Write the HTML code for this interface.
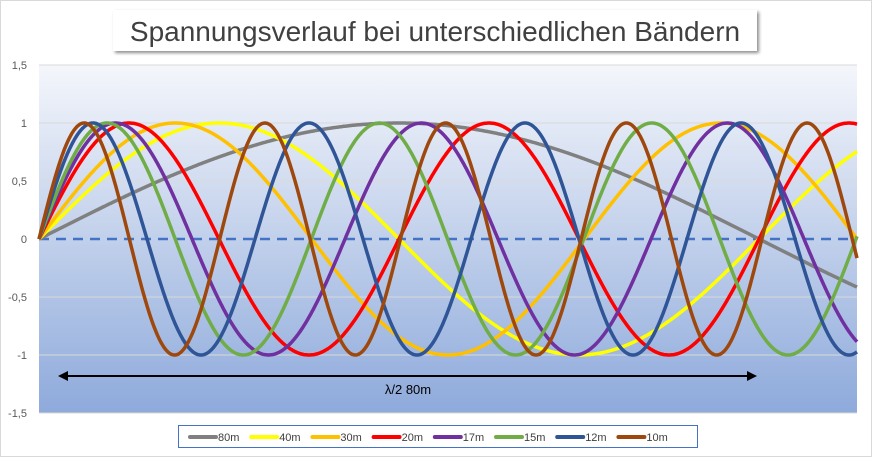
<!DOCTYPE html>
<html><head><meta charset="utf-8"><style>
body{margin:0;background:#fff;width:872px;height:457px;overflow:hidden;font-family:"Liberation Sans",sans-serif}
</style></head><body>
<svg id="s" width="872" height="457" xmlns="http://www.w3.org/2000/svg">
<defs>
<linearGradient id="g" x1="0" y1="0" x2="0" y2="1"><stop offset="0" stop-color="#f4f6fb"/><stop offset="1" stop-color="#8eaadb"/></linearGradient>
<filter id="sh"><feDropShadow dx="2" dy="2" stdDeviation="1.5" flood-color="#000" flood-opacity="0.45"/></filter>
</defs>
<rect x="0.5" y="0.5" width="871" height="456" fill="#fff" stroke="#d9d9d9"/>
<rect x="39" y="65" width="818" height="348" fill="url(#g)"/>
<g stroke="#d9d9d9" stroke-width="1">
<line x1="39" x2="857" y1="65" y2="65"/><line x1="39" x2="857" y1="123" y2="123"/><line x1="39" x2="857" y1="181" y2="181"/><line x1="39" x2="857" y1="297" y2="297"/><line x1="39" x2="857" y1="355" y2="355"/><line x1="39" x2="857" y1="413" y2="413"/>
</g>
<g font-size="11" fill="#595959" text-anchor="end">
<text x="27" y="69">1,5</text><text x="27" y="127">1</text><text x="27" y="185">0,5</text><text x="27" y="243">0</text><text x="27" y="301">-0,5</text><text x="27" y="359">-1</text><text x="27" y="417">-1,5</text>
</g>
<line x1="39" x2="857" y1="239" y2="239" stroke="#4472c4" stroke-width="2.5" stroke-dasharray="10,7"/>
<g id="curves" fill="none" stroke-width="3.5" stroke-linejoin="round"></g>
<line x1="62" x2="752" y1="376" y2="376" stroke="#000" stroke-width="2"/>
<polygon points="58,376 68,371 68,381" fill="#000"/><polygon points="757,376 747,371 747,381" fill="#000"/>
<text x="408" y="394" font-size="13" text-anchor="middle" fill="#000">λ/2 80m</text>
<rect x="113" y="10" width="644" height="41" fill="#fff" filter="url(#sh)"/>
<text x="435" y="41" font-size="28" text-anchor="middle" fill="#404040">Spannungsverlauf bei unterschiedlichen Bändern</text>
<rect x="178.5" y="425.5" width="519" height="22" fill="#fff" stroke="#4472c4"/>
<g id="leg" font-size="11" fill="#404040"></g>
</svg>
<script>
var S=[["#808080",80],["#ffff00",40],["#ffc000",30.3],["#ff0000",20],["#7030a0",17],["#70ad47",15.13],["#2f5597",12],["#9e480e",10.04]];
var names=["80m","40m","30m","20m","17m","15m","12m","10m"];
var ns="http://www.w3.org/2000/svg",c=document.getElementById("curves"),l=document.getElementById("leg");
S.forEach(function(s,i){var hp=9*s[1],p=[];for(var x=39;x<=857;x+=1){p.push(x+","+(239-116*Math.sin((x-39)/hp*Math.PI)).toFixed(1));}
var e=document.createElementNS(ns,"polyline");e.setAttribute("points",p.join(" "));e.setAttribute("stroke",s[0]);c.appendChild(e);
var lx=190+i*61.2;var ln=document.createElementNS(ns,"line");ln.setAttribute("x1",lx);ln.setAttribute("x2",lx+26);ln.setAttribute("y1",437);ln.setAttribute("y2",437);ln.setAttribute("stroke",s[0]);ln.setAttribute("stroke-width",4);ln.setAttribute("stroke-linecap","round");l.appendChild(ln);
var t=document.createElementNS(ns,"text");t.setAttribute("x",lx+28);t.setAttribute("y",441);t.textContent=names[i];l.appendChild(t);});
</script>
</body></html>
